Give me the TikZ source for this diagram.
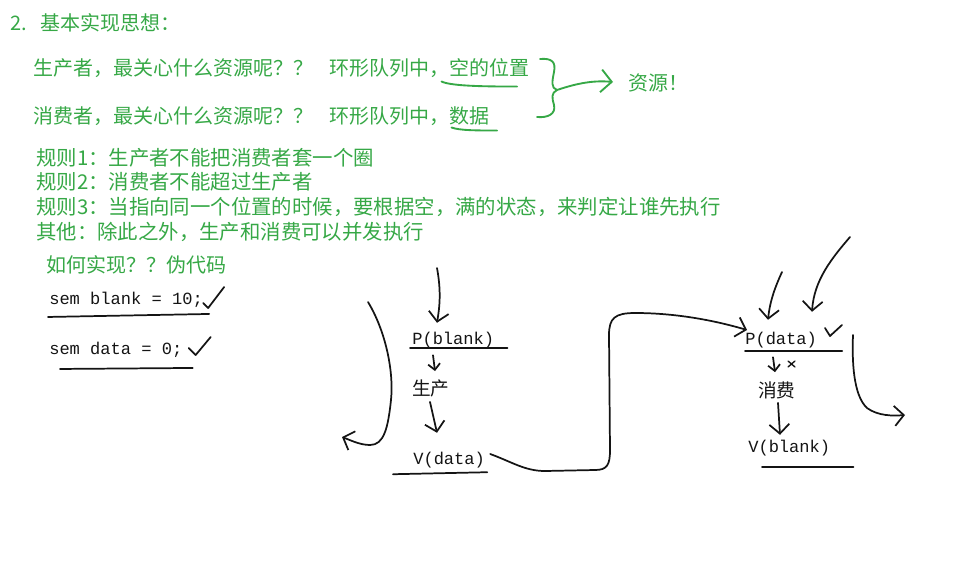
\documentclass[tikz,border=0pt]{standalone}
\usepackage{fontspec}
\setmainfont{Liberation Serif}
\setmonofont{Liberation Mono}
\newfontfamily\cjk{Noto Sans CJK SC}
\usepackage{xcolor}
\usepackage{tikz}
\usetikzlibrary{arrows.meta,positioning}
\definecolor{inkgreen}{HTML}{36A846}
\definecolor{ink}{HTML}{141414}

\begin{document}
\begin{tikzpicture}[
  x=0.75pt,y=-0.75pt,
  note/.style={inner sep=0pt,anchor=west,text=inkgreen,font=\cjk\fontsize{15}{18}\selectfont},
  rule/.style={note,font=\cjk\fontsize{15.3}{18}\selectfont},
  code/.style={inner sep=0pt,anchor=west,text=ink,font=\ttfamily\fontsize{12.8}{15}\selectfont},
  word/.style={inner sep=0pt,anchor=west,text=ink,font=\cjk\fontsize{14}{16}\selectfont},
  pen/.style={draw=ink,line width=1.3pt,line cap=round,line join=round},
  gpen/.style={draw=inkgreen,line width=1.4pt,line cap=round,line join=round},
  flow/.style={pen,-{Straight Barb[length=7pt,width=15pt]}},
  tinyflow/.style={pen,-{Straight Barb[length=4.5pt,width=9pt]}},
  gflow/.style={gpen,-{Straight Barb[length=8pt,width=17pt]}}
]
\useasboundingbox (0,0) rectangle (957,579);

% resources
\node[note] (title) at (10,23) {2.\hspace{10pt}基本实现思想：};
\node[note] (prodask) at (33,68) {生产者，最关心什么资源呢？？\hspace{12pt}环形队列中，};
\node[note,right=0pt of prodask] (slot) {空的位置};
\node[note] (consask) at (33,116) {消费者，最关心什么资源呢？？\hspace{12pt}环形队列中，};
\node[note,right=0pt of consask] (item) {数据};
\node[note] (res) at (628,83) {资源！};

\draw[gpen] ([shift={(-8,4)}]slot.south west) .. controls +(10,5) and +(-25,0) .. ([shift={(-13,9)}]slot.south east);
\draw[gpen] ([shift={(2,2)}]item.south west) .. controls +(8,3) and +(-20,0) .. ([shift={(7,5)}]item.south east);
\coordinate (bracetip) at (557,90);
\draw[gpen] (540,59) .. controls (552,58) and (556,62) .. (554,72)
  .. controls (552,82) and (551,88) .. (bracetip)
  .. controls (551,93) and (552,98) .. (554,105)
  .. controls (556,114) and (548,118) .. (537,117);
\draw[gflow] (bracetip) .. controls (575,84) and (592,80) .. ([shift={(-15,-1)}]res.west);

% rules
\node[rule] (rule1) at (36,158) {规则1：生产者不能把消费者套一个圈};
\node[rule] (rule2) at (36,182) {规则2：消费者不能超过生产者};
\node[rule] (rule3) at (36,207) {规则3：当指向同一个位置的时候，要根据空，满的状态，来判定让谁先执行};
\node[rule] (other) at (36,232) {其他：除此之外，生产和消费可以并发执行};
\node[note] (how) at (46,265) {如何实现？？伪代码};

% pseudo code
\node[code] (blank) at (49,300) {sem blank = 10;};
\node[code] (data) at (49,350) {sem data = 0;};
\draw[pen] ([shift={(-1,9)}]blank.south west) -- ([shift={(6,6)}]blank.south east);
\draw[pen] ([shift={(11,11)}]data.south west) -- ([shift={(10,10)}]data.south east);
\draw[pen] ([shift={(0,3)}]blank.east) -- ++(5,5) -- ++(16,-21);
\draw[pen] ([shift={(6,-2)}]data.east) -- ++(7,7) -- ++(15,-18);

% producer
\node[code] (pblank) at (412,340) {P(blank)};
\node[word] (make) at (412,388) {生产};
\node[code] (vdata) at (413,460) {V(data)};
\coordinate (prodin) at (437,268);
\coordinate (loopstart) at (368,302);
\coordinate (loopend) at (342,437);

\draw[pen] ([shift={(-2,0)}]pblank.south west) -- ([shift={(13,0)}]pblank.south east);
\draw[pen] ([shift={(-20,6)}]vdata.south west) -- ([shift={(2,4)}]vdata.south east);
\draw[flow] (prodin) .. controls (441,290) and (440,305) .. ([shift={(25,-9)}]pblank.north west);
\draw[tinyflow] ([shift={(21,7)}]pblank.south west) -- ([shift={(23,-8)}]make.north west);
\draw[flow] ([shift={(18,5)}]make.south west) -- ([shift={(24,-19)}]vdata.north west);
\draw[flow] (loopstart) .. controls (385,330) and (394,370) .. (391,400)
  .. controls (388,428) and (384,445) .. (370,445) .. controls (360,445) and (350,440) .. (loopend);

% consumer
\node[code] (pdata) at (745,340) {P(data)};
\node[word] (use) at (758,390) {消费};
\node[code] (vblank) at (748,448) {V(blank)};
\coordinate (consinA) at (782,272);
\coordinate (consinB) at (850,237);
\coordinate (outstart) at (853,335);
\coordinate (outend) at (905,415);

\draw[pen] ([shift={(0,3)}]pdata.south west) -- ([shift={(25,3)}]pdata.south east);
\draw[pen] ([shift={(14,11)}]vblank.south west) -- ([shift={(23,11)}]vblank.south east);
\draw[flow] (consinA) .. controls (776,285) and (770,300) .. ([shift={(23,-12)}]pdata.north west);
\draw[flow] (consinB) .. controls (832,258) and (814,280) .. ([shift={(67,-20)}]pdata.north west);
\draw[pen] (825,328) -- (830,336) -- (842,325);
\draw[tinyflow] ([shift={(28,9)}]pdata.south west) -- ([shift={(17,-9)}]use.north west);
\draw[pen,line width=1pt] (788,361) -- (795,367) (788,367) -- (795,361);
\draw[flow] ([shift={(20,4)}]use.south west) -- ([shift={(32,-5)}]vblank.north west);
\draw[flow] (outstart) .. controls (852,360) and (853,395) .. (867,408) .. controls (878,416) and (893,416) .. (outend);

% handover from producer to consumer
\draw[flow] ([shift={(5,-6)}]vdata.east) .. controls (512,462) and (525,471) .. (545,471)
  -- (595,470) .. controls (607,470) and (610,465) .. (610,450)
  -- (609,335) .. controls (609,318) and (615,313) .. (635,313)
  .. controls (680,313) and (720,322) .. ([shift={(2,-10)}]pdata.west);
\end{tikzpicture}
\end{document}
